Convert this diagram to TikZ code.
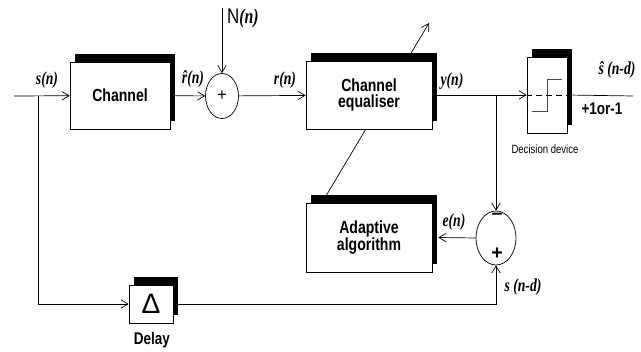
\documentclass[tikz,border=0pt]{standalone}
\usepackage{fontspec}
\setmainfont{Liberation Sans}
\newfontfamily\blockfont[FakeStretch=0.8]{Liberation Sans}
\newfontfamily\signalfont[FakeStretch=0.75]{Liberation Serif}
\usetikzlibrary{arrows.meta, shapes.geometric, shadows}

\begin{document}
\begin{tikzpicture}[
    x=0.025cm, y=-0.025cm,
    >={Straight Barb[length=5pt, width=6pt]},
    line width=0.5pt,
    block/.style={
        rectangle, draw, fill=white, inner sep=0pt, align=center,
        font=\blockfont\bfseries\fontsize{12.5}{12}\selectfont,
        general shadow={fill=black, shadow xshift=0.13cm, shadow yshift=0.19cm}
    },
    adder/.style={
        ellipse, draw, fill=white, inner sep=0pt
    },
    signal/.style={
        font=\signalfont\bfseries\itshape\fontsize{13}{13}\selectfont, inner sep=0pt
    },
    note/.style={
        font=\blockfont\fontsize{#1}{#1}\selectfont, inner sep=0pt
    },
    note/.default={11.5}
]
\useasboundingbox (0,0) rectangle (641,352);

% Branch points and free ends
\coordinate (in) at (14,96);
\coordinate (split1) at (38,96);
\coordinate (split2) at (496,96);
\coordinate (noise) at (222,8);
\coordinate (out) at (633,96);
\coordinate (tune) at (326,196);
\coordinate (tunetip) at (429,23);

% Adjustment arrow (behind the equaliser)
\draw[->] (tune) -- (tunetip);

% Blocks
\node[block, minimum width=2.5cm, minimum height=1.675cm] (chan) at (120,95.5) {Channel};
\node[adder, minimum width=0.825cm, minimum height=1.125cm] (sum1) at (222,96)
    {\fontsize{12}{12}\selectfont +};
\node[block, minimum width=3.15cm, minimum height=1.7cm] (eq) at (369,95) {Channel\\equaliser};
\node[block, minimum width=1.0cm, minimum height=1.9cm] (dec) at (547,95) {};
\node[block, minimum width=3.15cm, minimum height=1.725cm] (adapt) at (369,237.5)
    {Adaptive\\algorithm};
\node[adder, minimum width=1.0cm, minimum height=1.35cm] (sum2) at (496,238) {};
\node[block, minimum width=1.1cm, minimum height=0.95cm,
      font=\fontsize{20}{20}\selectfont] (delay) at (151,304) {Δ};

% Signs in the error adder
\node[note=14, font=\bfseries\fontsize{14}{14}\selectfont] (minus) at (497,216) {–};
\node[note=14, font=\bfseries\fontsize{14}{14}\selectfont] (plus) at (497,254) {+};

% Step characteristic
\draw[black!70] ([shift={(-15,16)}]dec.center) -- ++(15,0) -- ++(0,-32) -- ++(15,0);
\draw[dashed, dash pattern=on 4pt off 3pt] (dec.west) -- (dec.east);

% Connectors
\draw[->] (in) -- (chan);
\draw[->] (chan) -- (sum1);
\draw[->] (noise) -- (sum1);
\draw[->] (sum1) -- (eq);
\draw[->] (eq.east) -- (dec.west);
\draw (dec.east) -- (out);
\draw[->] (split2) -- (sum2.north);
\draw[->] (sum2.west) -- ([xshift=0.15cm]adapt.east);
\draw[->] (split1) |- (delay.west);
\draw[->] (delay.east) -| (sum2.south);

% Signal labels
\node[signal] (lsn) at (47,80) {s(n)};
\node[signal] (lrhat) at (193,79) {\^{r}(n)};
\node[note=15] (lnoise) at (243,18) {N\signalfont\bfseries\itshape(n)};
\node[signal] (lrn) at (285,80) {r(n)};
\node[signal] (lyn) at (452,81) {y(n)};
\node[signal] (lshat) at (617,70) {\^{s} (n-d)};
\node[note=12, font=\blockfont\bfseries\fontsize{12}{12}\selectfont] (lpm) at (602,109) {+1or-1};
\node[note=8.5] (ldec) at (545,149) {Decision device};
\node[signal] (len) at (454,222) {e(n)};
\node[signal] (lsd) at (523,287) {s (n-d)};
\node[note=12, font=\blockfont\bfseries\fontsize{12}{12}\selectfont] (ldelay) at (152,340) {Delay};

\end{tikzpicture}
\end{document}
